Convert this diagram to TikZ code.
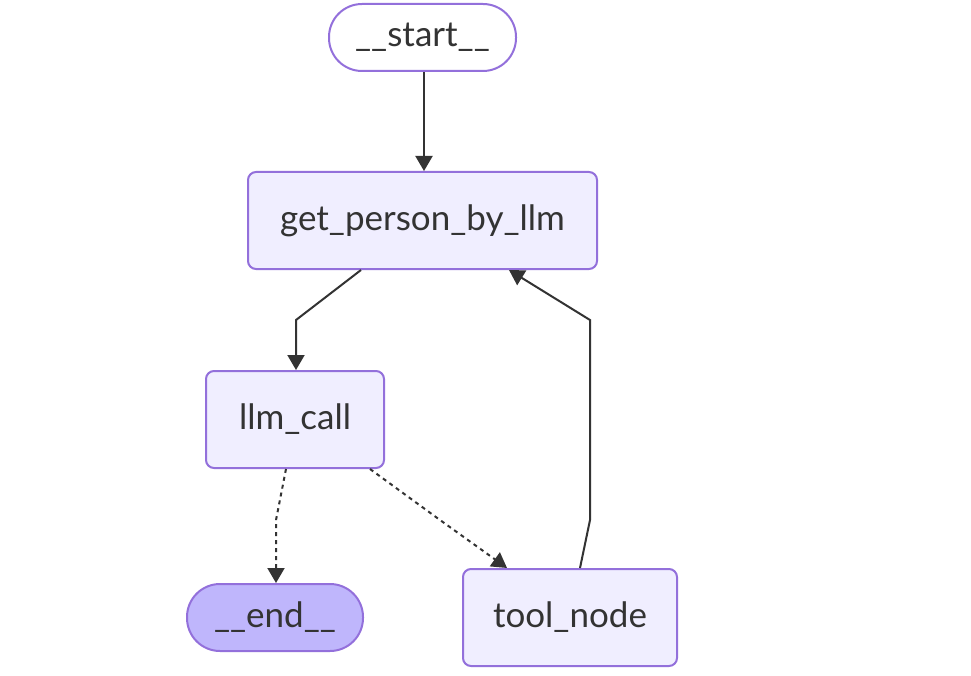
\documentclass[tikz,border=0pt]{standalone}
\usepackage{fontspec}
\setmainfont{Lato}
\usepackage{xcolor}
\usepackage{tikz}
\usetikzlibrary{arrows.meta, positioning}
\definecolor{nodeline}{HTML}{9370DB}
\definecolor{nodefill}{HTML}{F0EEFF}
\definecolor{endfill}{HTML}{BFB6FC}
\definecolor{inkgray}{HTML}{333333}
\tikzstyle{pill} = [rectangle, rounded corners=33pt, minimum width=187pt, minimum height=67pt, text centered, draw=nodeline, line width=2pt, fill=white, text=inkgray, font=\fontsize{35}{42}\selectfont]
\tikzstyle{box} = [rectangle, rounded corners=8pt, minimum height=97pt, text centered, draw=nodeline, line width=2pt, fill=nodefill, text=inkgray, font=\fontsize{35}{42}\selectfont]
\tikzstyle{edge} = [line width=2pt, draw=inkgray, -{Triangle[length=15pt,width=17pt]}]
\tikzstyle{cond} = [edge, dash pattern=on 4pt off 4pt]

\begin{document}
\begin{tikzpicture}[x=1pt, y=1pt]
\useasboundingbox (0,0) rectangle (971,-676);

\node (start) [pill] at (422.5,-37.5) {\_\_start\_\_};
\node (getp) [box, minimum width=349pt] at (422.5,-220.5) {get\_person\_by\_llm};
\node (llm) [box, minimum width=178pt] at (295,-419.5) {llm\_call};
\node (finish) [pill, fill=endfill, minimum width=176pt] at (275,-617.5) {\_\_end\_\_};
\node (tool) [box, minimum width=214pt] at (570,-617.5) {tool\_node};

% bend points
\coordinate (b1) at (296,-320);
\coordinate (b2) at (276,-520);
\coordinate (b3) at (440,-520);
\coordinate (b4) at (590,-520);
\coordinate (b5) at (590,-320);

\draw [edge] ([xshift=1.5pt]start.south) -- ([xshift=1.5pt]getp.north);
\draw [edge] ([xshift=-61.5pt]getp.south) -- (b1) -- ([xshift=1pt]llm.north);
\draw [cond] ([xshift=-9pt]llm.south) -- (b2) -- ([xshift=1pt]finish.north);
\draw [cond] ([xshift=75pt]llm.south) -- (b3) -- ([xshift=-63pt]tool.north);
\draw [edge] ([xshift=10pt]tool.north) -- (b4) -- (b5) -- ([xshift=86.5pt]getp.south);

\end{tikzpicture}
\end{document}
